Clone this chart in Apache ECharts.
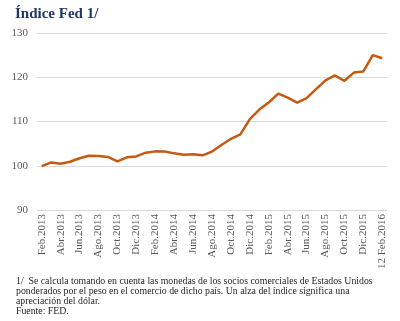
<!DOCTYPE html>
<html><head><meta charset="utf-8">
<script src="https://cdn.jsdelivr.net/npm/echarts@6/dist/echarts.min.js"></script>
<style>html,body{margin:0;padding:0;background:#fff}#c{width:400px;height:321px}</style>
</head><body><div id="c"></div>
<script>
const categories = ["Feb.2013","Mar.2013","Abr.2013","May.2013","Jun.2013","Jul.2013","Ago.2013","Sep.2013","Oct.2013","Nov.2013","Dic.2013",
"Ene.2014","Feb.2014","Mar.2014","Abr.2014","May.2014","Jun.2014","Jul.2014","Ago.2014","Sep.2014","Oct.2014","Nov.2014","Dic.2014",
"Ene.2015","Feb.2015","Mar.2015","Abr.2015","May.2015","Jun.2015","Jul.2015","Ago.2015","Sep.2015","Oct.2015","Nov.2015","Dic.2015",
"Ene.2016","12 Feb.2016"];
const fedIndex = [99.9,100.75,100.45,100.9,101.7,102.25,102.2,102.0,101.0,101.9,102.1,
102.95,103.25,103.2,102.8,102.5,102.6,102.35,103.2,104.7,106.1,107.1,110.55,
112.7,114.3,116.3,115.4,114.25,115.3,117.3,119.3,120.4,119.2,121.05,121.3,
125.0,124.3];
const yTicks = {min: 90, max: 130, interval: 10};
const titleText = "Índice Fed 1/";
const noteLines = [
 "1/  Se calcula tomando en cuenta las monedas de los socios comerciales de Estados Unidos",
 "ponderados por el peso en el comercio de dicho país. Un alza del índice significa una",
 "apreciación del dólar.",
 "Fuente: FED."
];
const serif = '"Liberation Serif", "DejaVu Serif", serif';
const chart = echarts.init(document.getElementById('c'), null, {renderer:'canvas'});
const lastIdx = fedIndex.length - 1;
chart.setOption({
  animation:false,
  backgroundColor:'#fff',
  grid:{left:37, right:13, top:33, bottom:111, containLabel:false},
  xAxis:{type:'category', data:categories, boundaryGap:true,
    axisLine:{show:false}, axisTick:{show:false},
    axisLabel:{rotate:90, interval:1, color:'#595959', fontFamily:serif, fontSize:11, margin:4}},
  yAxis:{type:'value', min:yTicks.min, max:yTicks.max, interval:yTicks.interval,
    axisLine:{show:false}, axisTick:{show:false},
    splitLine:{lineStyle:{color:'#d9d9d9', width:1}},
    axisLabel:{color:'#595959', fontFamily:serif, fontSize:11, margin:9}},
  series:[{type:'line', data:fedIndex.map((v,i)=> i===lastIdx ? {value:v, label:{show:true, position:'top', formatter: p=> p.value.toFixed(1).replace('.',','), color:'#c55a11', fontWeight:'bold', fontFamily:serif, fontSize:12, offset:[-2,-6]}} : v),
    showSymbol:false, symbol:'none', lineStyle:{color:'#c55a11', width:2.5}, itemStyle:{color:'#c55a11'}}],
  graphic:[
    {type:'text', left:15, top:7, style:{text:titleText, font:'bold 15px '+serif, fill:'#1f3864'}},
    ...noteLines.map((t,i)=>({type:'text', left:16, top:276+i*10.3, style:{text:t, font:'9.8px '+serif, fill:'#262626'}}))
  ]
});
</script></body></html>
